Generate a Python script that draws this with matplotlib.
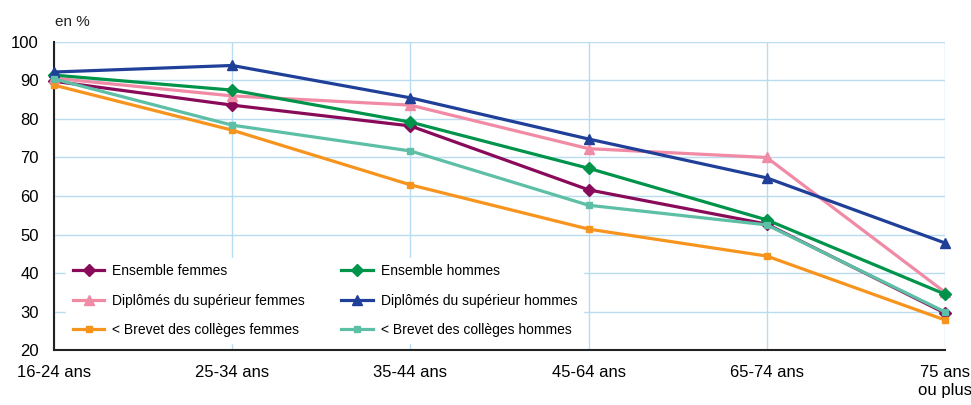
import matplotlib.pyplot as plt
from matplotlib import font_manager

# famille de police étroite si disponible
names = {f.name for f in font_manager.fontManager.ttflist}
fam = 'Liberation Sans Narrow' if 'Liberation Sans Narrow' in names else 'Liberation Sans'
plt.rcParams['font.family'] = [fam, 'DejaVu Sans']

ages = ['16-24 ans', '25-34 ans', '35-44 ans', '45-64 ans', '65-74 ans', '75 ans\nou plus']

ens_femmes = [89.8, 83.6, 78.2, 61.6, 52.7, 29.6]
ens_hommes = [91.4, 87.5, 79.2, 67.2, 53.8, 34.5]
sup_femmes = [90.6, 86.0, 83.6, 72.3, 70.0, 35.0]
sup_hommes = [92.2, 93.9, 85.5, 74.8, 64.7, 47.8]
brevet_femmes = [88.8, 77.1, 62.9, 51.4, 44.4, 27.8]
brevet_hommes = [90.4, 78.4, 71.7, 57.6, 52.5, 29.9]

# ordre de la légende : colonne femmes puis colonne hommes
series = [
    ('Ensemble femmes', ens_femmes, '#8a0a5a', 'D'),
    ('Diplômés du supérieur femmes', sup_femmes, '#f08aa5', '^'),
    ('< Brevet des collèges femmes', brevet_femmes, '#f7941d', 's'),
    ('Ensemble hommes', ens_hommes, '#00944a', 'D'),
    ('Diplômés du supérieur hommes', sup_hommes, '#1f3f98', '^'),
    ('< Brevet des collèges hommes', brevet_hommes, '#5dbfa5', 's'),
]

fig = plt.figure(figsize=(9.71, 4.05), dpi=100)
ax = fig.add_axes([0.0556, 0.1358, 0.9176, 0.7605])

x = list(range(len(ages)))
for label, vals, col, mk in series:
    ms = 6.5 if mk == 'D' else (7 if mk == '^' else 5)
    ax.plot(x, vals, color=col, linewidth=2.3, marker=mk, markersize=ms,
            label=label, zorder=3, clip_on=False)

ax.set_xlim(0, len(ages) - 1)
ax.set_ylim(20, 100)
ax.set_yticks(range(20, 101, 10))
ax.set_xticks(x)
ax.set_xticklabels(ages, fontsize=12)
ax.tick_params(axis='y', labelsize=12, length=0, pad=11)
ax.tick_params(axis='x', length=0, pad=11)
ax.grid(True, color='#b9dcf2', linewidth=1)
for s in ['top', 'right']:
    ax.spines[s].set_visible(False)
ax.spines['left'].set_color('#222222')
ax.spines['bottom'].set_color('#222222')
ax.spines['left'].set_linewidth(1.5)
ax.spines['bottom'].set_linewidth(1.5)
ax.set_axisbelow(True)

leg = ax.legend(loc='lower left', bbox_to_anchor=(0.006, 0.0), ncol=2,
                fontsize=10, frameon=True, fancybox=False, borderpad=0.45,
                handlelength=2.3, handletextpad=0.55, columnspacing=2.6,
                labelspacing=1.1, framealpha=1)
leg.get_frame().set_edgecolor('white')
leg.set_zorder(4)

fig.text(0.057, 0.935, 'en %', fontsize=11, color='#222222')

fig.savefig('out.png', dpi=100)
